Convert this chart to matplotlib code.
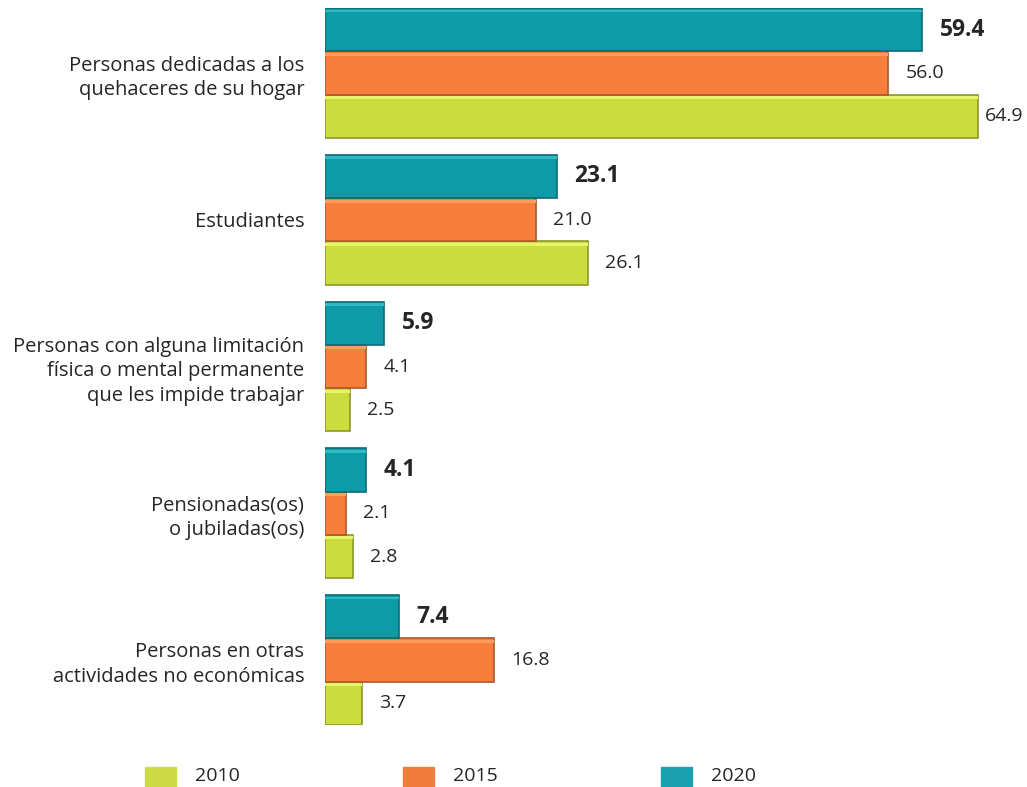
import numpy as np
import matplotlib.pyplot as plt
from matplotlib.patches import Rectangle

plt.rcParams['font.family'] = ['Open Sans', 'DejaVu Sans']

categories = [
    "Personas dedicadas a los\nquehaceres de su hogar",
    "Estudiantes",
    "Personas con alguna limitación\nfísica o mental permanente\nque les impide trabajar",
    "Pensionadas(os)\no jubiladas(os)",
    "Personas en otras\nactividades no económicas",
]
years = ["2010", "2015", "2020"]
v2010 = [64.9, 26.1, 2.5, 2.8, 3.7]
v2015 = [56.0, 21.0, 4.1, 2.1, 16.8]
v2020 = [59.4, 23.1, 5.9, 4.1, 7.4]

colors = ["#CBDC3E", "#F87E3B", "#0E9AA7"]
edges = ["#8E9A2A", "#B0582A", "#0A6C75"]
lights = ["#E8F46A", "#FF9C60", "#30BAC6"]
legend_colors = ["#CEDB48", "#F07C3C", "#1AA0AE"]
txt = "#262626"

fig = plt.figure(figsize=(10.27, 7.87), dpi=100)
W, H = 1027, 787
# axes: left at x=325, top at y=8, bottom at y=725
ax = fig.add_axes([325 / W, 1 - 725 / H, 694 / W, 717 / H])
h = 0.295
y = np.arange(len(categories))
series = [v2010, v2015, v2020]
offsets = [h, 0, -h]
for i, vals in enumerate(series):
    ax.barh(y + offsets[i], vals, height=h, color=colors[i], edgecolor=edges[i], linewidth=1.2)
    ax.barh(y + offsets[i] - h / 2 + 0.02, vals, height=0.02, color=lights[i], linewidth=0)
    for yy, v in zip(y + offsets[i], vals):
        if i == 2:
            ax.text(v + 1.7, yy, f"{v:.1f}", va='center', ha='left', fontsize=16.5,
                    fontweight='bold', color=txt)
        else:
            # keep the label inside the picture when the bar is very long
            xt = v + 1.7 if v + 1.7 + 3.8 < 69.8 else v + 0.7
            ax.text(xt, yy, f"{v:.1f}", va='center', ha='left', fontsize=14, color=txt)

ax.set_xlim(0, 69)
ax.set_ylim(4.443, -0.443)
ax.set_yticks(y)
ax.set_yticklabels(categories, fontsize=14.5, color=txt, ha='right', linespacing=1.3)
ax.tick_params(axis='y', length=0, pad=15)
ax.set_xticks([])
for s in ax.spines.values():
    s.set_visible(False)

# legend along the bottom
lx = [145, 403, 661]
for i, yr in enumerate(years):
    fig.add_artist(Rectangle((lx[i] / W, 1 - 787 / H), 31 / W, 20 / H,
                             transform=fig.transFigure, color=legend_colors[i]))
    fig.text((lx[i] + 50) / W, 1 - 776 / H, yr, fontsize=14, color=txt, va='center', ha='left')

fig.savefig("out.png", dpi=100)
